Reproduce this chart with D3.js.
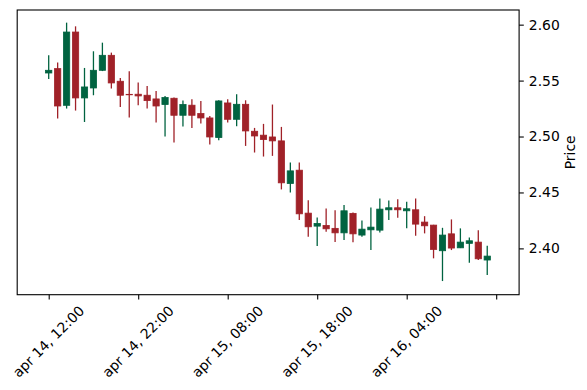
<!DOCTYPE html>
<html>
<head>
<meta charset="utf-8">
<script src="https://cdn.jsdelivr.net/npm/d3@7"></script>
<style>
  html, body { margin: 0; padding: 0; background: #fff; }
  svg { display: block; font-family: "DejaVu Sans", sans-serif; }
</style>
</head>
<body>
<div id="chart"></div>
<script>
// hourly candles, index 0 = apr 14 12:00
const open = [2.5568, 2.5607, 2.5279, 2.5934, 2.5345, 2.5434, 2.5592, 2.5726, 2.5494, 2.5377,
  2.5378, 2.5369, 2.5336, 2.5286, 2.5342, 2.5190, 2.5280, 2.5205, 2.5166, 2.4991,
  2.5300, 2.5154, 2.5288, 2.5047, 2.5012, 2.4996, 2.4961, 2.4580, 2.4699, 2.4315,
  2.4199, 2.4205, 2.4179, 2.4139, 2.4313, 2.4119, 2.4166, 2.4163, 2.4345, 2.4363,
  2.4336, 2.4345, 2.4235, 2.4208, 2.3979, 2.4130, 2.4005, 2.4045, 2.4056, 2.3896];
const high = [2.5726, 2.5661, 2.6018, 2.5985, 2.5613, 2.5762, 2.5839, 2.5750, 2.5523, 2.5583,
  2.5482, 2.5452, 2.5407, 2.5363, 2.5348, 2.5321, 2.5333, 2.5318, 2.5184, 2.5324,
  2.5333, 2.5378, 2.5324, 2.5077, 2.5113, 2.5286, 2.5086, 2.4768, 2.4768, 2.4431,
  2.4277, 2.4357, 2.4342, 2.4387, 2.4321, 2.4250, 2.4366, 2.4446, 2.4429, 2.4440,
  2.4416, 2.4446, 2.4288, 2.4211, 2.4184, 2.4259, 2.4179, 2.4098, 2.4163, 2.4023];
const low = [2.5514, 2.5161, 2.5250, 2.5232, 2.5130, 2.5369, 2.5585, 2.5429, 2.5264, 2.5170,
  2.5280, 2.5250, 2.5125, 2.5000, 2.4946, 2.5089, 2.5077, 2.5116, 2.4929, 2.4967,
  2.5125, 2.5092, 2.4916, 2.4857, 2.4821, 2.4827, 2.4527, 2.4500, 2.4253, 2.4104,
  2.4021, 2.4148, 2.4056, 2.4074, 2.4054, 2.4104, 2.3985, 2.4143, 2.4253, 2.4273,
  2.4179, 2.4113, 2.4134, 2.3911, 2.3708, 2.3985, 2.4003, 2.3871, 2.3896, 2.3762];
const close = [2.5592, 2.5273, 2.5934, 2.5345, 2.5443, 2.5592, 2.5726, 2.5479, 2.5369, 2.5373,
  2.5363, 2.5321, 2.5273, 2.5348, 2.5190, 2.5286, 2.5190, 2.5166, 2.4996, 2.5318,
  2.5154, 2.5288, 2.5050, 2.5005, 2.4973, 2.4961, 2.4586, 2.4693, 2.4309, 2.4193,
  2.4223, 2.4175, 2.4139, 2.4336, 2.4130, 2.4172, 2.4190, 2.4351, 2.4363, 2.4345,
  2.4354, 2.4217, 2.4202, 2.3991, 2.4119, 2.4003, 2.4056, 2.4068, 2.3907, 2.3931];

const xTickIndex = [0, 10, 20, 30, 40, 50];
const xTickLabels = ['apr 14, 12:00', 'apr 14, 22:00', 'apr 15, 08:00', 'apr 15, 18:00', 'apr 16, 04:00', ''];
const yTicks = [2.40, 2.45, 2.50, 2.55, 2.60];

const width = 587, height = 390;
const plot = { left: 17.2, right: 519.1, top: 10, bottom: 294.7 };
const upColor = '#006340', downColor = '#a02128';
const fontSize = 13.9;

const candles = open.map((o, i) => ({ i, o, h: high[i], l: low[i], c: close[i] }));

const x = d3.scaleLinear().domain([-3.52, 52.56]).range([plot.left, plot.right]);
const y = d3.scaleLinear().domain([2.3586, 2.6131]).range([plot.bottom, plot.top]);

const svg = d3.select('#chart').append('svg')
  .attr('width', width)
  .attr('height', height);

const bodyW = x(0.7) - x(0);

// candles
const g = svg.append('g').attr('class', 'candles');
const cg = g.selectAll('g.candle').data(candles).enter()
  .append('g')
  .attr('class', 'candle')
  .attr('fill', d => d.c >= d.o ? upColor : downColor)
  .attr('stroke', d => d.c >= d.o ? upColor : downColor);

cg.append('line')
  .attr('x1', d => x(d.i)).attr('x2', d => x(d.i))
  .attr('y1', d => y(d.h)).attr('y2', d => y(d.l))
  .attr('stroke-width', 1.3);

cg.append('rect')
  .attr('x', d => x(d.i) - bodyW / 2)
  .attr('width', bodyW)
  .attr('y', d => y(Math.max(d.o, d.c)))
  .attr('height', d => Math.abs(y(d.o) - y(d.c)))
  .attr('stroke-width', 0.8);

// frame
svg.append('rect')
  .attr('x', plot.left).attr('y', plot.top)
  .attr('width', plot.right - plot.left)
  .attr('height', plot.bottom - plot.top)
  .attr('fill', 'none')
  .attr('stroke', '#000')
  .attr('stroke-width', 1.1);

// y axis on the right
const yAxis = svg.append('g')
  .attr('transform', `translate(${plot.right},0)`)
  .call(d3.axisRight(y).tickValues(yTicks).tickFormat(d3.format('.2f'))
    .tickSize(4.7).tickSizeOuter(0).tickPadding(5));
yAxis.select('.domain').remove();
yAxis.selectAll('line').attr('stroke', '#000').attr('stroke-width', 1.1);
yAxis.selectAll('text')
  .attr('font-family', 'DejaVu Sans')
  .attr('font-size', fontSize)
  .attr('fill', '#000');

svg.append('text')
  .attr('transform', `translate(574.5,${(plot.top + plot.bottom) / 2}) rotate(-90)`)
  .attr('text-anchor', 'middle')
  .attr('font-family', 'DejaVu Sans')
  .attr('font-size', fontSize)
  .attr('fill', '#000')
  .text('Price');

// x axis, labels rotated 45 and centred under the tick
const xAxis = svg.append('g')
  .attr('transform', `translate(0,${plot.bottom})`)
  .call(d3.axisBottom(x).tickValues(xTickIndex).tickFormat((d, i) => xTickLabels[i])
    .tickSize(4.7).tickSizeOuter(0));
xAxis.select('.domain').remove();
xAxis.selectAll('line').attr('stroke', '#000').attr('stroke-width', 1.1);

const asc = 0.76 * fontSize, desc = 0.208 * fontSize, c45 = Math.SQRT1_2;
const top0 = 4.7 + 4.9;
xAxis.selectAll('text')
  .attr('font-family', 'DejaVu Sans')
  .attr('font-size', fontSize)
  .attr('fill', '#000')
  .attr('dy', null)
  .attr('text-anchor', 'end')
  .each(function() {
    const t = d3.select(this);
    const L = this.getComputedTextLength();
    const ex = c45 * (L - desc + asc) / 2;
    const ey = top0 + c45 * asc;
    t.attr('x', ex).attr('y', ey)
      .attr('transform', `rotate(-45,${ex},${ey})`);
  });
</script>
</body>
</html>
